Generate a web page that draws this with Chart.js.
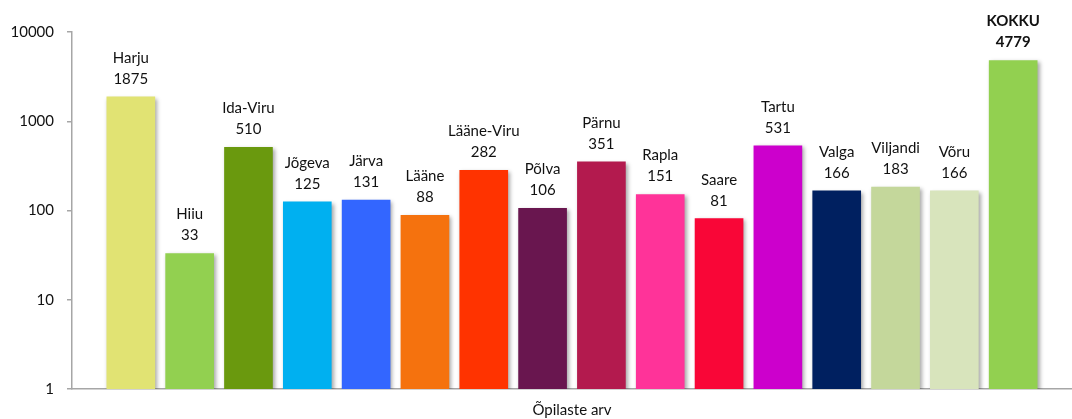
<!DOCTYPE html>
<html>
<head>
<meta charset="utf-8">
<script src="https://cdn.jsdelivr.net/npm/chart.js@4.4.0/dist/chart.umd.min.js"></script>
<style>
    html, body { margin: 0; padding: 0; background: #fff; }
    #wrap { width: 1072px; height: 419px; position: relative; }
</style>
</head>
<body>
<div id="wrap"><canvas id="barChart"></canvas></div>
<script>
const regions = ['Harju', 'Hiiu', 'Ida-Viru', 'Jõgeva', 'Järva', 'Lääne', 'Lääne-Viru', 'Põlva',
    'Pärnu', 'Rapla', 'Saare', 'Tartu', 'Valga', 'Viljandi', 'Võru', 'KOKKU'];
const students = [1875, 33, 510, 125, 131, 88, 282, 106, 351, 151, 81, 531, 166, 183, 166, 4779];
const barColors = ['#E1E373', '#92D050', '#6A990E', '#00B0F0', '#3366FF', '#F5720E', '#FF3300', '#69164F',
    '#B31A4E', '#FF3399', '#F90637', '#CC00CC', '#002060', '#C4D79B', '#D8E4BC', '#92D050'];
const yTicks = [1, 10, 100, 1000, 10000];

// empty slots at both ends give the gap next to the axis, like the original
const labels = [''].concat(regions, ['']);
const data = [null].concat(students, [null]);
const colors = ['#fff'].concat(barColors, ['#fff']);

const FONT = 'Lato, "Liberation Sans", sans-serif';

const barShadow = {
    id: 'barShadow',
    beforeDatasetsDraw(chart) {
        const c = chart.ctx;
        c.save();
        c.shadowColor = 'rgba(0,0,0,0.35)';
        c.shadowBlur = 4;
        c.shadowOffsetX = 2;
        c.shadowOffsetY = 2;
    },
    afterDatasetsDraw(chart) {
        chart.ctx.restore();
    }
};

const barLabels = {
    id: 'barLabels',
    afterDraw(chart) {
        const c = chart.ctx;
        const meta = chart.getDatasetMeta(0);
        c.save();
        c.textAlign = 'center';
        c.textBaseline = 'middle';
        c.fillStyle = '#111';
        meta.data.forEach((bar, i) => {
            if (data[i] == null) return;
            const bold = labels[i] === 'KOKKU';
            c.font = (bold ? 'bold ' : '') + '15px ' + FONT;
            c.fillText(labels[i], bar.x, bar.y - 39);
            c.fillText(String(data[i]), bar.x, bar.y - 18);
        });
        c.restore();
    }
};

new Chart(document.getElementById('barChart'), {
    type: 'bar',
    data: {
        labels: labels,
        datasets: [{
            data: data,
            backgroundColor: colors,
            borderWidth: 0,
            barThickness: 48
        }]
    },
    options: {
        responsive: true,
        maintainAspectRatio: false,
        animation: false,
        layout: { padding: { top: 32, right: 0, left: 0, bottom: 0 } },
        plugins: {
            legend: { display: false },
            tooltip: { enabled: false }
        },
        scales: {
            x: {
                offset: false,
                grid: { display: false },
                border: { display: true, color: '#a6a6a6', width: 1.5 },
                ticks: { display: false },
                title: {
                    display: true,
                    text: 'Õpilaste arv',
                    color: '#111',
                    font: { family: FONT, size: 15 },
                    padding: { top: 6, bottom: 0 }
                },
                afterFit(scale) { scale.height = 30; }
            },
            y: {
                type: 'logarithmic',
                min: 1,
                max: 10000,
                afterBuildTicks(scale) {
                    scale.ticks = yTicks.map(v => ({ value: v }));
                },
                grid: { drawOnChartArea: false, drawTicks: true, tickLength: 5, color: '#a6a6a6', lineWidth: 1.5 },
                border: { display: true, color: '#a6a6a6', width: 1.5 },
                ticks: {
                    color: '#111',
                    padding: 13,
                    font: { family: FONT, size: 15 },
                    callback: function (value) {
                        return String(value);
                    }
                },
                afterFit(scale) { scale.width = 72; }
            }
        }
    },
    plugins: [barShadow, barLabels]
});
</script>
</body>
</html>
